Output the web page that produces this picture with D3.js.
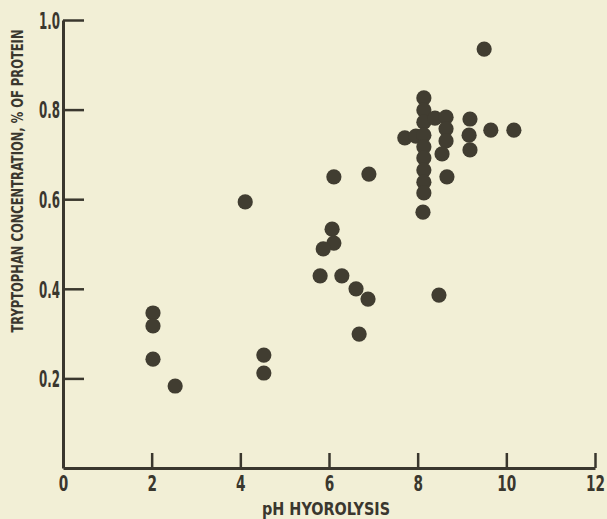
<!DOCTYPE html>
<html>
<head>
<meta charset="utf-8">
<script src="https://cdn.jsdelivr.net/npm/d3@7"></script>
<style>
  html, body { margin: 0; padding: 0; background: #f2efd6; }
  svg { display: block; }
  text { font-family: "Liberation Sans Narrow", "DejaVu Sans Condensed", "Roboto Condensed", sans-serif; font-weight: bold; fill: #3a372e; }
</style>
</head>
<body>
<svg id="chart" width="607" height="519"></svg>
<script>
// pH of hydrolysis (x) and tryptophan concentration, % of protein (y)
const phValues = [
  9.50, 10.17, 9.65, 9.18, 9.16, 9.18, 8.66, 8.12, 7.71, 7.96,
  8.14, 8.14, 8.14, 8.14, 8.14, 8.14, 8.14, 8.14, 8.14,
  8.39, 8.64, 8.64, 8.64, 8.55, 8.48,
  4.11, 6.11, 6.90, 6.07, 6.11, 5.87, 5.80, 6.29, 6.61, 6.88, 6.68,
  2.03, 2.03, 2.03, 2.53, 4.53, 4.53
];
const tryptophanValues = [
  0.935, 0.754, 0.754, 0.779, 0.743, 0.710, 0.650, 0.571, 0.737, 0.741,
  0.826, 0.799, 0.772, 0.743, 0.717, 0.692, 0.665, 0.638, 0.614,
  0.781, 0.783, 0.757, 0.730, 0.701, 0.386,
  0.594, 0.650, 0.656, 0.533, 0.502, 0.489, 0.429, 0.429, 0.400, 0.377, 0.299,
  0.346, 0.317, 0.243, 0.183, 0.252, 0.212
];
const xTickValues = [0, 2, 4, 6, 8, 10, 12];
const yTickValues = [0.2, 0.4, 0.6, 0.8, 1.0];
const xTitle = "pH HYOROLYSIS";
const yTitle = "TRYPTOPHAN CONCENTRATION, % OF PROTEIN";

const svg = d3.select("#chart");
const ink = "#3a372e";
const dotColor = "#413d31";

const x = d3.scaleLinear().domain([0, 12]).range([63, 595]);
const y = d3.scaleLinear().domain([0, 1]).range([468, 20]);

// x axis
const xAxis = svg.append("g").attr("transform", `translate(0,${y(0)})`)
  .call(d3.axisBottom(x).tickValues(xTickValues).tickSizeInner(-15).tickSizeOuter(0).tickPadding(7).tickFormat(d3.format("d")));
xAxis.attr("font-family", null).attr("font-size", null);
xAxis.select(".domain").attr("stroke", ink).attr("stroke-width", 3);
xAxis.selectAll(".tick line").attr("stroke", ink).attr("stroke-width", 2.5);
xAxis.selectAll(".tick text").attr("font-size", 22).attr("fill", ink)
  .attr("textLength", d => String(d).length * 9.5)
  .attr("lengthAdjust", "spacingAndGlyphs");

// y axis
const yAxis = svg.append("g").attr("transform", `translate(${x(0)},0)`)
  .call(d3.axisLeft(y).tickValues(yTickValues).tickSizeInner(-21).tickSizeOuter(0).tickPadding(3).tickFormat(d3.format(".1f")));
yAxis.attr("font-family", null).attr("font-size", null);
yAxis.select(".domain").attr("stroke", ink).attr("stroke-width", 3);
yAxis.selectAll(".tick line").attr("stroke", ink).attr("stroke-width", 2.5);
yAxis.selectAll(".tick text").attr("font-size", 23).attr("fill", ink).attr("dy", "0.36em")
  .attr("textLength", 21)
  .attr("lengthAdjust", "spacingAndGlyphs");

// points
svg.append("g").selectAll("circle")
  .data(phValues.map((v, i) => [v, tryptophanValues[i]]))
  .join("circle")
  .attr("cx", d => x(d[0]))
  .attr("cy", d => y(d[1]))
  .attr("r", 7.6)
  .attr("fill", dotColor);

// titles
svg.append("text")
  .attr("x", 326).attr("y", 515)
  .attr("text-anchor", "middle")
  .attr("font-size", 17)
  .attr("textLength", 128)
  .attr("lengthAdjust", "spacingAndGlyphs")
  .text(xTitle);

svg.append("text")
  .attr("transform", "translate(23,181) rotate(-90)")
  .attr("text-anchor", "middle")
  .attr("font-size", 16)
  .attr("textLength", 303)
  .attr("lengthAdjust", "spacingAndGlyphs")
  .text(yTitle);
</script>
</body>
</html>
